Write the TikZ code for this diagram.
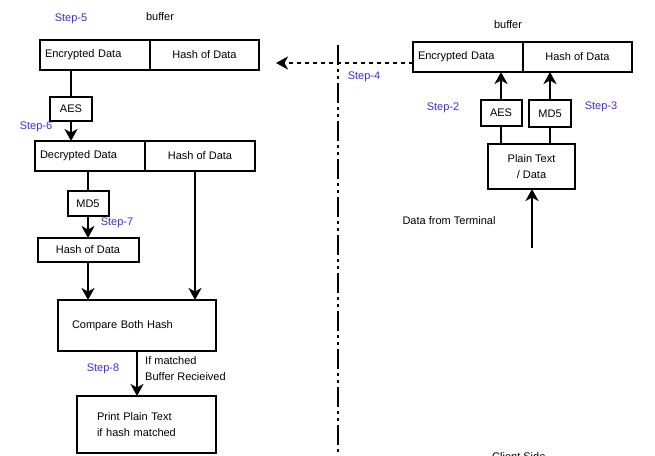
\documentclass[tikz,border=0pt]{standalone}
\usepackage{fontspec}
\setmainfont{Liberation Sans}
\usetikzlibrary{positioning,arrows.meta}
\definecolor{stepblue}{RGB}{60,40,255}
\tikzset{
  cell/.style={draw, line width=2pt, inner sep=0pt, outer sep=0pt, font=\fontsize{11}{16}\selectfont},
  lcell/.style={cell, align=left},
  steplbl/.style={text=stepblue, inner sep=0pt, font=\fontsize{11}{13}\selectfont},
  lbl/.style={inner sep=0pt, font=\fontsize{11}{16}\selectfont},
  link/.style={line width=2pt},
  arr/.style={line width=2pt, -{Stealth[length=12pt,width=13pt,inset=3.5pt]}},
  dotarr/.style={line width=2pt, dash pattern=on 4pt off 4pt, -{Stealth[length=12pt,width=13pt,inset=3.5pt]}},
  divider/.style={line width=2pt, dash pattern=on 20pt off 4pt on 3pt off 4pt on 3pt off 4pt}
}
\begin{document}
\begin{tikzpicture}[x=1pt,y=-1pt]
\useasboundingbox (0,0) rectangle (655,455);
\node[steplbl] (step5) at (71,19) {Step-5};
\node[lbl] (buf5) at (160,17) {buffer};
\node[lcell, minimum height=30pt, text width=100pt, inner xsep=5pt] (enc5) at (95,55) {Encrypted Data};
\node[cell, minimum height=30pt, minimum width=109pt, right=0pt of enc5] (hash5) {Hash of Data};
\node[cell, minimum width=42pt, minimum height=24pt] (aes6) at (71,109) {AES};
\node[steplbl] (step6) at (36,127) {Step-6};
\node[lcell, minimum height=30pt, text width=100pt, inner xsep=5pt] (dec6) at (90,156) {Decrypted Data};
\node[cell, minimum height=30pt, minimum width=110pt, right=0pt of dec6] (hash6) {Hash of Data};
\node[cell, minimum width=41pt, minimum height=25pt] (md57) at (88,203.5) {MD5};
\node[steplbl] (step7) at (117,223) {Step-7};
\node[cell, minimum width=101pt, minimum height=24pt] (hash7) at (88,250) {Hash of Data};
\node[lcell, minimum height=51pt, text width=130pt, inner xsep=14pt] (cmp) at (137,325.5) {Compare Both Hash\\[4pt]};
\node[steplbl] (step8) at (103,369) {Step-8};
\node[lbl, align=left, anchor=west] (match) at (145,369) {If matched\\Buffer Recieived};
\node[lcell, minimum height=57pt, text width=99pt, inner xsep=20pt] (prn) at (146.5,424.5) {Print Plain Text\\if hash matched\\[-6pt]};
\draw[link] (aes6.north) -- (aes6.north |- enc5.south);
\draw[arr] (aes6.south) -- (aes6.south |- dec6.north);
\draw[link] (md57.north) -- (md57.north |- dec6.south);
\draw[arr] (md57.south) -- (md57.south |- hash7.north);
\draw[arr] (hash7.south) -- (hash7.south |- cmp.north);
\draw[arr] ([xshift=-5pt]hash6.south) -- ([xshift=-5pt]hash6.south |- cmp.north);
\draw[arr] (cmp.south) -- (cmp.south |- prn.north);
\coordinate (divtop) at (338,45);
\coordinate (divbot) at (338,470);
\draw[divider] (divtop) -- (divbot);
\coordinate (recv) at (276,63);
\node[steplbl] (step4) at (364,77) {Step-4};
\node[lbl] (buf2) at (508,25) {buffer};
\node[lcell, minimum height=30pt, text width=100pt, inner xsep=5pt] (enc2) at (468,57) {Encrypted Data};
\node[cell, minimum height=30pt, minimum width=109pt, right=0pt of enc2] (hash2) {Hash of Data\\[3pt]};
\draw[dotarr] ([yshift=-6pt]enc2.west) -- (recv);
\node[cell, minimum width=41pt, minimum height=26pt] (aes2) at (501,113) {AES};
\node[cell, minimum width=42pt, minimum height=27pt] (md52) at (550,113.5) {MD5\\[3pt]};
\node[steplbl] (step2) at (443,108) {Step-2};
\node[steplbl] (step3) at (601,107) {Step-3};
\node[cell, align=center, minimum width=87pt, minimum height=45pt] (plain) at (531.5,166.5) {Plain Text\\/ Data};
\draw[arr] (aes2.north) -- (aes2.north |- enc2.south);
\draw[arr] (md52.north) -- (md52.north |- enc2.south);
\draw[link] (aes2.south) -- (aes2.south |- plain.north);
\draw[link] (md52.south) -- (md52.south |- plain.north);
\coordinate (term) at (532,248);
\node[lbl] (termlbl) at (449,221) {Data from Terminal};
\draw[arr] (term) -- (term |- plain.south);
\node[lbl, anchor=base west] (client) at (492,460) {Client Side};
\end{tikzpicture}
\end{document}
